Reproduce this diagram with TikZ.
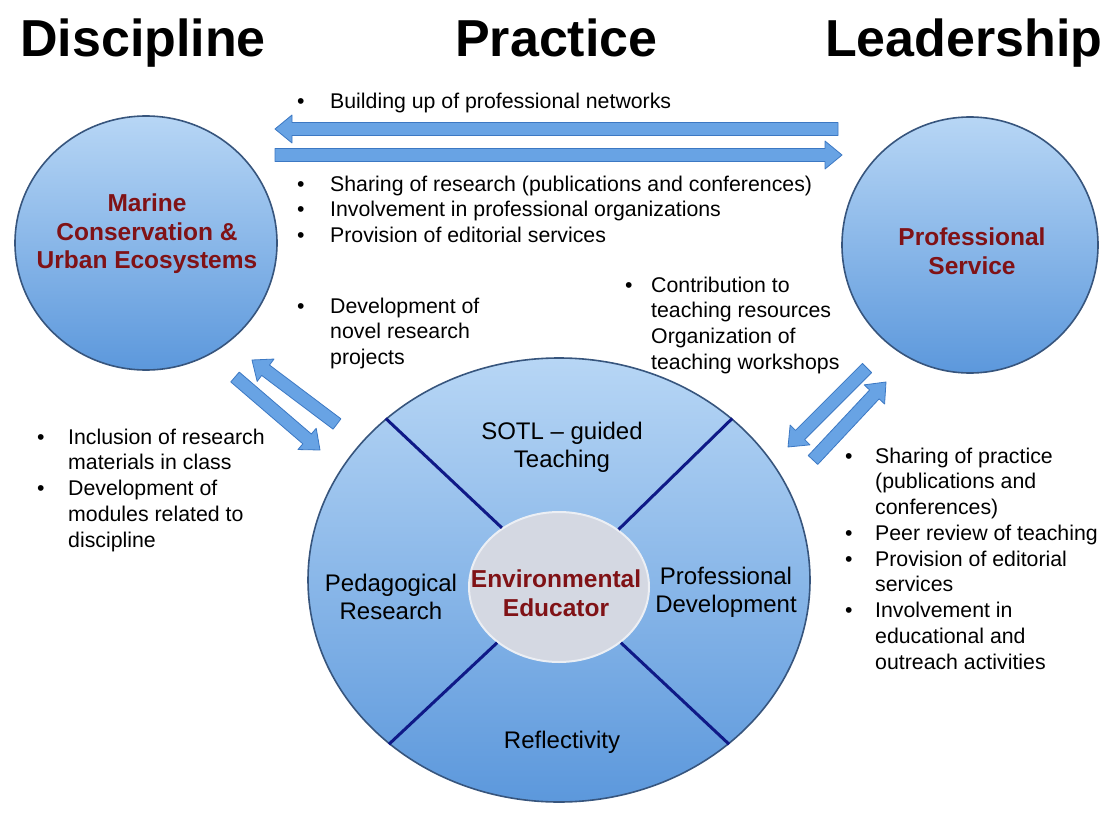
\documentclass[tikz,border=0pt]{standalone}
\usepackage{fontspec}
\setmainfont{Liberation Sans}
\usetikzlibrary{shapes.geometric,calc}
\definecolor{circtop}{RGB}{183,214,245}
\definecolor{circbot}{RGB}{92,152,220}
\definecolor{circborder}{RGB}{55,85,125}
\definecolor{arrowfill}{RGB}{104,163,228}
\definecolor{arrowdraw}{RGB}{60,120,195}
\definecolor{navy}{RGB}{15,25,135}
\definecolor{innerfill}{RGB}{212,216,226}
\definecolor{innerdraw}{RGB}{236,239,244}
\definecolor{darkred}{RGB}{128,18,22}
\tikzset{
  circ/.style={ellipse, draw=circborder, line width=1.6pt, top color=circtop, bottom color=circbot, inner sep=0pt},
  circlabel/.style={align=center, text=darkred, inner sep=0pt, font=\fontsize{24.5}{28.5}\selectfont\bfseries},
  body/.style={anchor=base west, inner sep=0pt, font=\fontsize{21.3}{25.75}\selectfont},
  titletext/.style={anchor=base west, inner sep=0pt, font=\fontsize{52}{52}\selectfont\bfseries},
  sector/.style={align=center, inner sep=0pt, font=\fontsize{24}{28}\selectfont},
  divline/.style={draw=navy, line width=3pt},
  fatarrow/.style={fill=arrowfill, draw=arrowdraw, line width=0.8pt, line join=round},
}
\newcommand\fatarr[2]{%
  \path[fatarrow] let \p1=(#1), \p2=(#2), \n1={atan2(\y2-\y1,\x2-\x1)}, \n2={veclen(\x2-\x1,\y2-\y1)} in
   [shift={(\p1)}, rotate=\n1] (0,-6.5) -- ({\n2-17},-6.5) -- ({\n2-17},-14) -- ({\n2},0) -- ({\n2-17},14) -- ({\n2-17},6.5) -- (0,6.5) -- cycle;}
\begin{document}
\begin{tikzpicture}[x=1pt,y=-1pt]
\fill[white] (0,0) rectangle (1106,816);
\useasboundingbox (0,0) rectangle (1106,816);

% titles
\node[titletext] (tdisc) at (20,57) {Discipline};
\node[titletext] (tprac) at (455,57) {Practice};
\node[titletext] (tlead) at (825,57) {Leadership};

% side circles
\node[circ, minimum width=262pt, minimum height=254pt] (disc) at (146,243) {};
\node[circlabel] (disclab) at (147,234) {Marine\\Conservation \&\\Urban Ecosystems};
\node[circ, minimum width=256pt, minimum height=256pt] (serv) at (970,245) {};
\node[circlabel] (servlab) at (972,251) {Professional\\Service};

% big circle
\node[circ, minimum width=502pt, minimum height=444pt] (big) at (559,580) {};
\node[ellipse, fill=innerfill, draw=innerdraw, line width=2pt, minimum width=180pt, minimum height=150pt, inner sep=0pt] (inner) at (559,587) {};
\draw[divline] (inner.134) -- (big.137);
\draw[divline] (inner.44) -- (big.43);
\draw[divline] (inner.222) -- (big.224.5);
\draw[divline] (inner.318.4) -- (big.316.7);
\node[circlabel] (edu) at (556,593) {Environmental\\Educator};
\node[sector] (sotl) at (562,447) {SOTL – guided\\Teaching};
\node[sector] (ped) at (391,597) {Pedagogical\\Research};
\node[sector] (prof) at (726,592) {Professional\\Development};
\node[sector] (refl) at (562,742) {Reflectivity};

% arrows
\coordinate (h1s) at (838,129); \coordinate (h1e) at (275,129);
\coordinate (h2s) at (275,155); \coordinate (h2e) at (842,155);
\coordinate (l1s) at (337,424); \coordinate (l1e) at (252,360);
\coordinate (l2s) at (235,377); \coordinate (l2e) at (320,450);
\coordinate (r1s) at (867,368); \coordinate (r1e) at (788,447);
\coordinate (r2s) at (813,460); \coordinate (r2e) at (886,382);
\fatarr{h1s}{h1e}
\fatarr{h2s}{h2e}
\fatarr{l1s}{l1e}
\fatarr{l2s}{l2e}
\fatarr{r1s}{r1e}
\fatarr{r2s}{r2e}

% text blocks
\node[body] (net) at (297,108) {\begin{tabular}[t]{@{}p{33pt}@{}l@{}}\textbullet & Building up of professional networks\end{tabular}};
\node[body] (share) at (297,191) {\begin{tabular}[t]{@{}p{33pt}@{}l@{}}\textbullet & Sharing of research (publications and conferences)\\ \textbullet & Involvement in professional organizations\\ \textbullet & Provision of editorial services\end{tabular}};
\node[body] (dev) at (297,313) {\begin{tabular}[t]{@{}p{33pt}@{}l@{}}\textbullet & Development of\\ & novel research\\ & projects\end{tabular}};
\node[body] (contrib) at (625,292) {\begin{tabular}[t]{@{}p{26pt}@{}l@{}}\textbullet & Contribution to\\ & teaching resources\\ & Organization of\\ & teaching workshops\end{tabular}};
\node[body] (incl) at (37,444) {\begin{tabular}[t]{@{}p{31pt}@{}l@{}}\textbullet & Inclusion of research\\ & materials in class\\ \textbullet & Development of\\ & modules related to\\ & discipline\end{tabular}};
\node[body] (sharep) at (845,463) {\begin{tabular}[t]{@{}p{30pt}@{}l@{}}\textbullet & Sharing of practice\\ & (publications and\\ & conferences)\\ \textbullet & Peer review of teaching\\ \textbullet & Provision of editorial\\ & services\\ \textbullet & Involvement in\\ & educational and\\ & outreach activities\end{tabular}};
\end{tikzpicture}
\end{document}
